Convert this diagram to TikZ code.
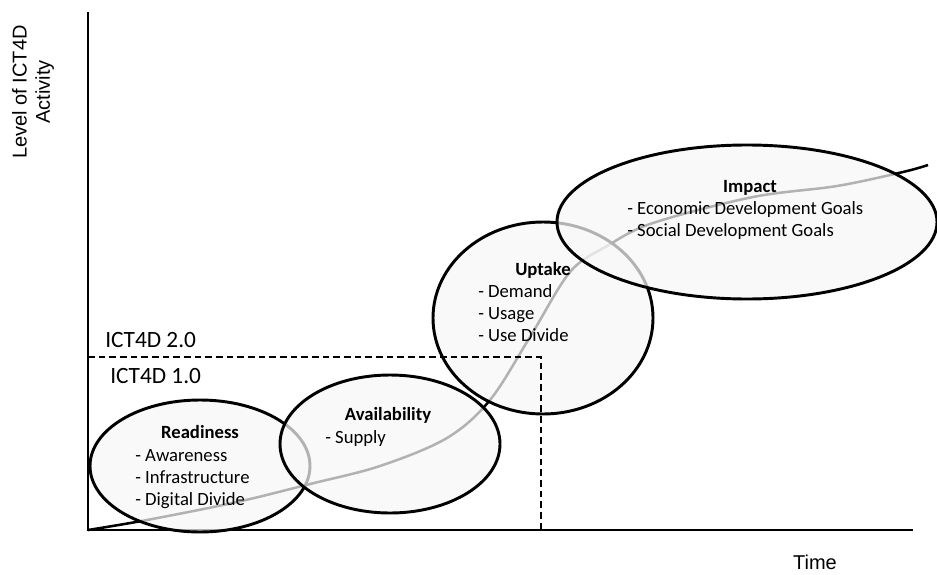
\documentclass[tikz,border=0pt]{standalone}
\usepackage{fontspec}
\setmainfont{Carlito}
\newfontfamily\axisfont{Liberation Sans}
\usepackage{tikz}
\usetikzlibrary{shapes,arrows}

\tikzset{
  phase/.style={line width=2.2pt, draw=black, fill=gray!6, fill opacity=0.72},
  axisline/.style={line width=1.6pt},
  phasehead/.style={anchor=base, inner sep=0pt, font=\fontsize{14}{16.5}\selectfont\bfseries},
  phaselist/.style={anchor=base west, inner sep=0pt, align=left, font=\fontsize{14}{16.5}\selectfont},
  eralabel/.style={anchor=base west, inner sep=0pt, font=\fontsize{17.5}{20}\selectfont}
}

\begin{document}
\begin{tikzpicture}[x=0.75pt,y=0.75pt,yscale=-1,xscale=1]
        \useasboundingbox (0,0) rectangle (937,574);

        % axes
        \coordinate (top) at (88,12);
        \coordinate (origin) at (88,530);
        \coordinate (xend) at (913,530);
        \draw [axisline]  (top) -- (origin) -- (xend) ;

        % adoption curve
        \draw [line width=1.9pt] plot [smooth, tension=0.55] coordinates {(88,530) (147,520) (237,502) (310,484) (380,466) (447,438) (490,400) (530,337) (570,272) (607,246) (653,223) (753,197) (837,186) (903,172) (928,165)} ;

        % phases
        \draw [phase]  (200,466) ellipse (110 and 66) ;
        \draw [phase]  (390,444) ellipse (110 and 69) ;
        \draw [phase]  (543,318) ellipse (110 and 96) ;
        \draw [phase]  (747,222) ellipse (190 and 77) ;

        % ICT4D 1.0 / 2.0 box
        \coordinate (boxtl) at (88,357);
        \coordinate (boxtr) at (541,357);
        \coordinate (boxbr) at (541,530);
        \draw [line width=1.3pt, dashed, dash pattern=on 5pt off 3pt]  (boxtl) -- (boxtr) -- (boxbr) ;

        % base of a list = base of its last line
        \node [phasehead] (readyhead) at (200,438) {Readiness};
        \node [phaselist] (readylist) at (135,505) {- Awareness\\- Infrastructure\\- Digital Divide};
        \node [phasehead] (availhead) at (388,420) {Availability};
        \node [phaselist] (availlist) at (325,443) {- Supply};
        \node [phasehead] (uptakehead) at (543,275) {Uptake};
        \node [phaselist] (uptakelist) at (478,341) {- Demand\\- Usage\\- Use Divide};
        \node [phasehead] (impacthead) at (750,192) {Impact};
        \node [phaselist] (impactlist) at (627,236) {- Economic Development Goals\\- Social Development Goals};

        \node [eralabel] (era2) at (105,347) {ICT4D 2.0};
        \node [eralabel] (era1) at (110,383) {ICT4D 1.0};

        \node [rotate=90, align=center, inner sep=0pt, font=\axisfont\fontsize{15}{17.5}\selectfont] (ylabel) at (33,92) {Level of ICT4D\\Activity};
        \node [anchor=base, inner sep=0pt, font=\axisfont\fontsize{15}{18}\selectfont] (xlabel) at (815,569) {Time};
    \end{tikzpicture}
\end{document}
